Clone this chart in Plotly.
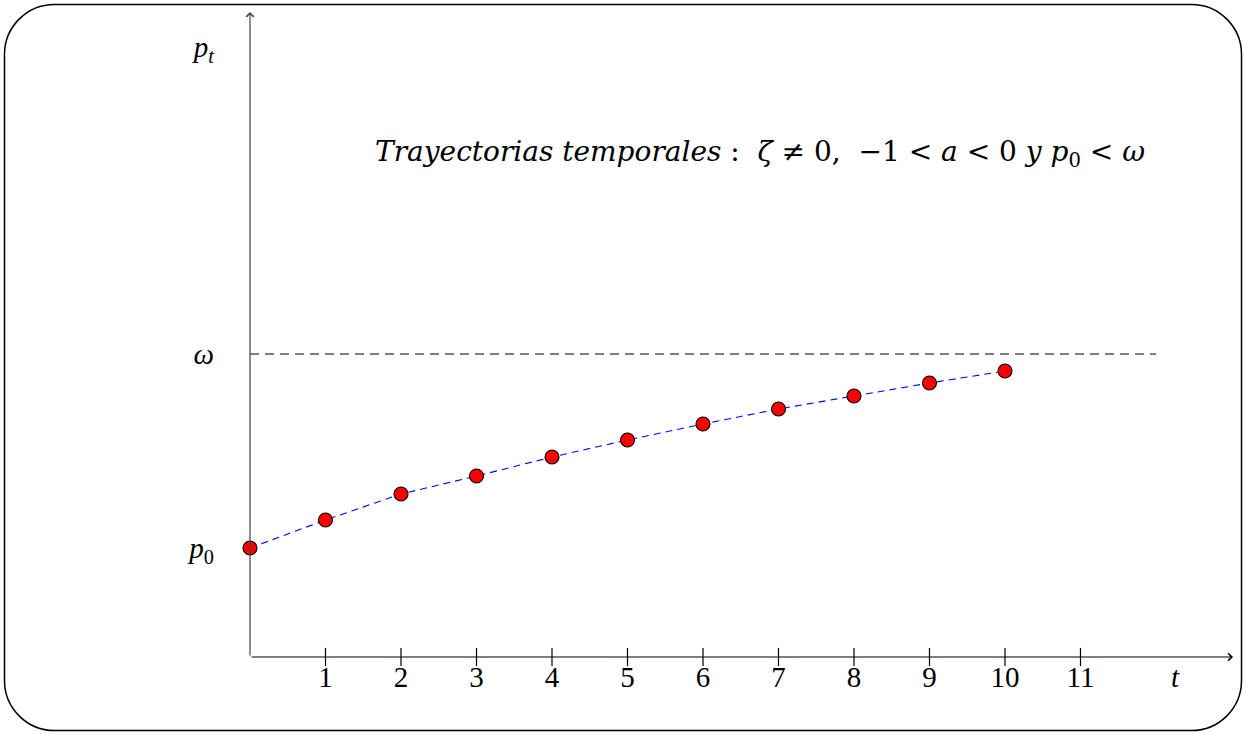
import plotly.graph_objects as go

# ---- data ----
t_vals = [0, 1, 2, 3, 4, 5, 6, 7, 8, 9, 10]
p_vals = [1.444, 1.815, 2.159, 2.397, 2.649, 2.874, 3.086, 3.285, 3.457, 3.629, 3.788]
omega = 4.013
omega_t = [0, 12]
x_ticks = [1, 2, 3, 4, 5, 6, 7, 8, 9, 10, 11]
x_ticktext = [str(v) for v in x_ticks]
y_tickvals = [p_vals[0], omega, 8.08]
y_ticktext = ["<i>p</i><sub>0</sub>", "<i>ω</i>", "<i>p</i><sub><i>t</i></sub>"]
title_text = ("<i>Trayectorias temporales</i> :  <i>ζ</i> ≠ 0,  −1 &lt; <i>a</i> &lt; 0 "
              "<i>y</i> <i>p</i><sub>0</sub> &lt; <i>ω</i>")

W, H = 1246, 734
ML, MR, MT, MB = 250, 13, 12, 77
PW, PH = W - ML - MR, H - MT - MB
XMAX = 13.02
YMAX = 8.543
FONT = "Liberation Serif"
TFONT = "DejaVu Serif"

fig = go.Figure()

# omega dashed reference line
fig.add_trace(go.Scatter(x=omega_t, y=[omega, omega], mode="lines",
                         line=dict(color="#555555", width=1.3, dash="9px,6px"),
                         hoverinfo="skip", showlegend=False))
# trajectory
fig.add_trace(go.Scatter(x=t_vals, y=p_vals, mode="lines+markers",
                         line=dict(color="#0000ff", width=1.1, dash="7px,5px"),
                         marker=dict(size=14, color="#ff0000", line=dict(color="black", width=1.1)),
                         cliponaxis=False, showlegend=False))
# tick marks crossing the axis
fig.add_trace(go.Scatter(x=x_ticks, y=[0] * len(x_ticks), mode="markers",
                         marker=dict(symbol="line-ns", size=13, line=dict(color="black", width=1.2)),
                         cliponaxis=False, hoverinfo="skip", showlegend=False))

# axes with arrow heads
fig.add_annotation(x=XMAX, y=0, ax=0, ay=0, xref="x", yref="y", axref="x", ayref="y",
                   text="", showarrow=True, arrowhead=4, arrowsize=1.2, arrowwidth=1.2,
                   arrowcolor="black")
fig.add_annotation(x=0, y=YMAX, ax=0, ay=0, xref="x", yref="y", axref="x", ayref="y",
                   text="", showarrow=True, arrowhead=4, arrowsize=1.2, arrowwidth=1.2,
                   arrowcolor="#444444")

# t label (below the axis, in paper units)
fig.add_annotation(x=12.26, y=-20 / PH, xref="x", yref="paper", text="<i>t</i>", showarrow=False,
                   font=dict(family=FONT, size=29, color="black"), xanchor="center", yanchor="middle")
# title
fig.add_annotation(x=6.755, y=6.675, xref="x", yref="y", text=title_text, showarrow=False,
                   font=dict(family=TFONT, size=28, color="black"), xanchor="center", yanchor="middle")

# rounded frame
def px2paper(px, py):
    return (px - ML) / PW, (H - MB - py) / PH

def frame_path(x0, y0, x1, y1, r):
    k = 0.5523 * r
    def P(x, y):
        a, b = px2paper(x, y)
        return f"{a:.5f},{b:.5f}"
    s = f"M{P(x0 + r, y0)} L{P(x1 - r, y0)} "
    s += f"C{P(x1 - r + k, y0)} {P(x1, y0 + r - k)} {P(x1, y0 + r)} "
    s += f"L{P(x1, y1 - r)} C{P(x1, y1 - r + k)} {P(x1 - r + k, y1)} {P(x1 - r, y1)} "
    s += f"L{P(x0 + r, y1)} C{P(x0 + r - k, y1)} {P(x0, y1 - r + k)} {P(x0, y1 - r)} "
    s += f"L{P(x0, y0 + r)} C{P(x0, y0 + r - k)} {P(x0 + r - k, y0)} {P(x0 + r, y0)} Z"
    return s

fig.add_shape(type="path", xref="paper", yref="paper", path=frame_path(4.5, 4.5, 1241.5, 730.5, 50),
              line=dict(color="black", width=1.5), layer="above")

fig.update_layout(
    width=W, height=H, margin=dict(l=ML, r=MR, t=MT, b=MB),
    paper_bgcolor="white", plot_bgcolor="white",
    xaxis=dict(range=[0, XMAX], showgrid=False, zeroline=False, showline=False,
               tickvals=x_ticks, ticktext=x_ticktext, ticks="",
               tickfont=dict(family=FONT, size=29, color="black")),
    yaxis=dict(range=[0, YMAX], showgrid=False, zeroline=False, showline=False,
               tickvals=y_tickvals, ticktext=y_ticktext, ticks="", ticklabelstandoff=35,
               tickfont=dict(family=FONT, size=29, color="black")),
    showlegend=False,
)

fig.write_html("out.html", config={"displayModeBar": False},
               post_script="document.body.style.margin='0';document.body.style.overflow='hidden';")
